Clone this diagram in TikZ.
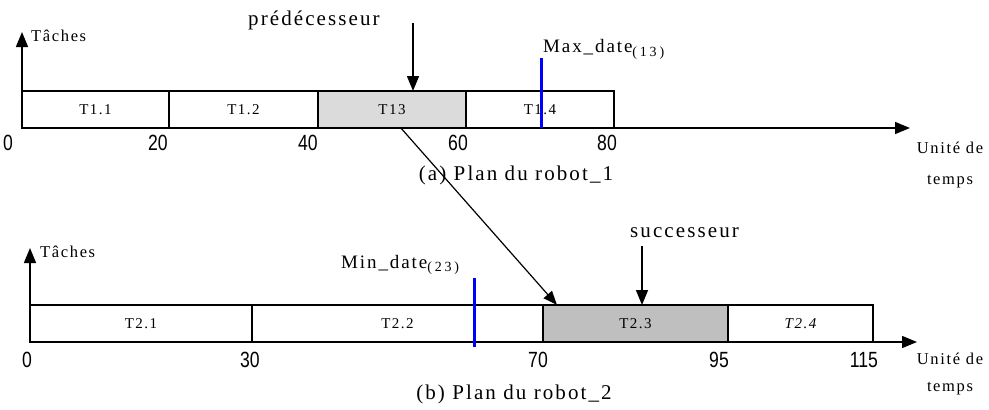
\documentclass[tikz,border=0pt]{standalone}
\usepackage{fontspec}
\usepackage{graphicx}
\setmainfont{Liberation Serif}
\newfontfamily\spacedserif[LetterSpace=10]{Liberation Serif}
\newfontfamily\widesub[LetterSpace=20]{Liberation Serif}
\newfontfamily\digitfont{Liberation Sans}
\usetikzlibrary{arrows.meta,calc}

\newcommand\labfont{\spacedserif\fontsize{21}{24}\selectfont}
\newcommand\datefont{\spacedserif\fontsize{19}{22}\selectfont}
\newcommand\subfont{\widesub\fontsize{14}{16}\selectfont}
\newcommand\cellfont{\spacedserif\fontsize{15}{17}\selectfont}
\newcommand\smallfont{\spacedserif\fontsize{16.5}{19}\selectfont}
\newcommand\tickfont{\digitfont\fontsize{22}{24}\selectfont}
\newcommand\tick[1]{\scalebox{0.8}[1]{#1}}

\tikzset{
  tip/.style={-{Triangle[length=15pt,width=12pt]}},
  axis/.style={line width=1.5pt, tip},
  pointer/.style={line width=1.5pt, tip},
  cell/.style={draw, line width=1.5pt, minimum height=37pt,
    inner sep=0pt, outer sep=0pt, font=\cellfont, anchor=south west},
  lightcell/.style={cell, fill=black!14},
  darkcell/.style={cell, fill=black!25},
  plaincell/.style={cell, fill=white},
  limit/.style={draw=blue, line width=3pt},
  ticklabel/.style={inner sep=0pt, font=\tickfont},
  label/.style={inner sep=0pt, font=\labfont, anchor=base west},
  datelabel/.style={inner sep=0pt, font=\datefont, anchor=base west},
  caption/.style={inner sep=0pt, font=\labfont, anchor=base},
  axistitle/.style={inner sep=0pt, font=\smallfont, anchor=base west},
  unitlabel/.style={inner sep=0pt, font=\smallfont, align=center}
}

\begin{document}
\begin{tikzpicture}[x=1pt,y=-1pt]
\useasboundingbox[fill=white] (0,0) rectangle (989,410);

% ---------- (a) robot 1 ----------
\coordinate (o1) at (22,128);
\coordinate (ytop1) at (22,32);
\coordinate (xend1) at (910,128);

\node[plaincell, minimum width=147pt] (t11) at (22,128) {T1.1};
\node[plaincell, minimum width=149pt] (t12) at (169,128) {T1.2};
\node[lightcell, minimum width=148pt] (t13) at (318,128) {T13};
\node[plaincell, minimum width=148pt] (t14) at (466,128) {T1.4};
\draw[line width=2.6pt] (t13.north east) -- (t13.south east);

\draw[axis] (o1) -- (ytop1);
\draw[axis] (o1) -- (xend1);

\node[axistitle] (tA) at (31,41) {Tâches};

\node[ticklabel] (a0)  at (8,143)   {\tick{0}};
\node[ticklabel] (a20) at (158,143) {\tick{20}};
\node[ticklabel] (a40) at (308,143) {\tick{40}};
\node[ticklabel] (a60) at (458,143) {\tick{60}};
\node[ticklabel] (a80) at (607,143) {\tick{80}};

\node[unitlabel] (uA) at (950,148) {Unité de};
\node[unitlabel] (sA) at (950,182) {temps};

\node[caption] (capA) at (516,180) {(a) Plan du robot\_1};

\node[label] (pred) at (248,25) {prédécesseur};
\coordinate (predtop) at (413,23);
\draw[pointer] (predtop) -- (predtop |- t13.north);

\coordinate (maxtop) at (541.5,58);
\draw[limit] (maxtop) -- (maxtop |- t14.south);
\node[datelabel] (maxd) at (543,52) {Max\_date\raisebox{-4pt}{\subfont(13)}};

% ---------- (b) robot 2 ----------
\coordinate (o2) at (30,342);
\coordinate (ytop2) at (30,248);
\coordinate (xend2) at (917,342);

\node[plaincell, minimum width=222pt] (t21) at (30,342) {T2.1};
\node[plaincell, minimum width=291pt] (t22) at (252,342) {T2.2};
\node[darkcell, minimum width=185pt] (t23) at (543,342) {T2.3};
\node[plaincell, minimum width=145pt] (t24) at (728,342) {\itshape T2.4};
\draw[line width=2.6pt] (t24.south west) -- (t24.south east);

\draw[axis] (o2) -- (ytop2);
\draw[axis] (o2) -- (xend2);

\node[axistitle] (tB) at (40,257) {Tâches};

\node[ticklabel] (b0)   at (27,360)  {\tick{0}};
\node[ticklabel] (b30)  at (250,360) {\tick{30}};
\node[ticklabel] (b70)  at (538,360) {\tick{70}};
\node[ticklabel] (b95)  at (719,360) {\tick{95}};
\node[ticklabel] (b115) at (864,360) {\tick{115}};

\node[unitlabel] (uB) at (950,359) {Unité de};
\node[unitlabel] (sB) at (950,389) {temps};

\node[caption] (capB) at (514,399) {(b) Plan du robot\_2};

\node[label] (succ) at (630,237) {successeur};
\coordinate (succtop) at (642,246);
\draw[pointer] (succtop) -- (succtop |- t23.north);

\coordinate (mintop) at (474,278);
\draw[limit] (mintop) -- (474,347);
\node[datelabel] (mind) at (341,268) {Min\_date\raisebox{-3pt}{\subfont(23)}};

% ---------- precedence link ----------
\coordinate (from) at ($(t13.south west)!0.56!(t13.south east)$);
\coordinate (to) at ($(t23.north west)+(14,0)$);
\draw[line width=1.2pt, -{Triangle[length=14pt,width=11pt]}] (from) -- (to);
\end{tikzpicture}
\end{document}
